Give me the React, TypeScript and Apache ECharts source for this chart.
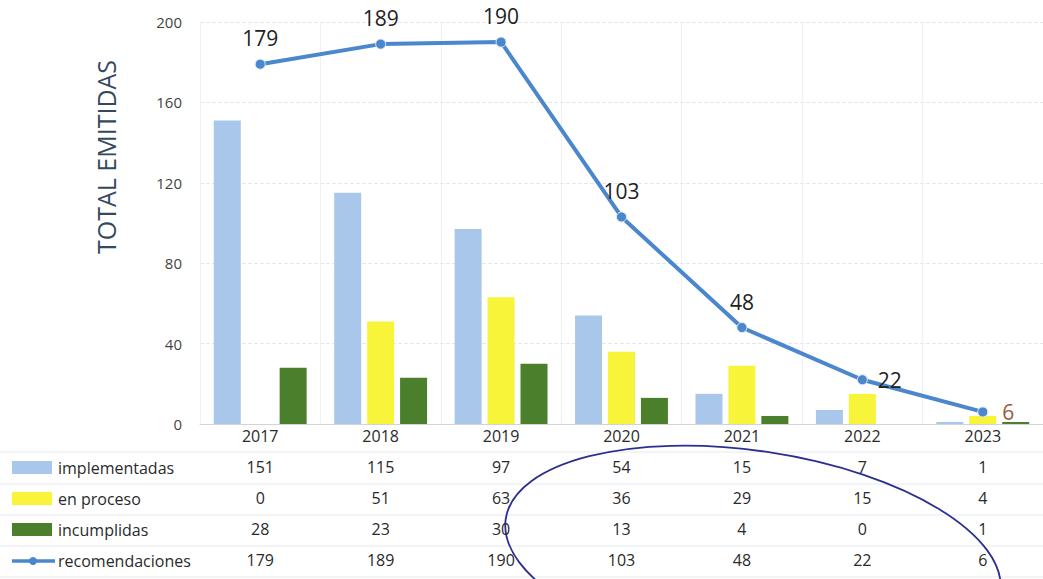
import React, { useEffect, useRef } from "react";
import * as echarts from "echarts";

const years = ["2017", "2018", "2019", "2020", "2021", "2022", "2023"];
const implementadas = [151, 115, 97, 54, 15, 7, 1];
const enProceso = [0, 51, 63, 36, 29, 15, 4];
const incumplidas = [28, 23, 30, 13, 4, 0, 1];
const recomendaciones = [179, 189, 190, 103, 48, 22, 6];
const yTicks = { min: 0, max: 200, interval: 40 };

const rowNames = ["implementadas", "en proceso", "incumplidas", "recomendaciones"];
const rowData = [implementadas, enProceso, incumplidas, recomendaciones];

const C_BLUE = "#a8c7ea";
const C_YELLOW = "#f7f43a";
const C_GREEN = "#4b7f2b";
const C_LINE = "#4a87cc";
const FONT = "Open Sans";

export default function App() {
  const ref = useRef<HTMLDivElement>(null);
  useEffect(() => {
    if (!ref.current) return;
    const chart = echarts.init(ref.current, undefined, { renderer: "svg" });
    const rowY = [468, 499, 530, 561];
    const rowOffsets = [29, 60, 91, 122];
    const tableAxes = rowData.map((arr, i) => ({
      type: "category",
      gridIndex: 0,
      position: "bottom",
      offset: rowOffsets[i],
      data: arr.map((v) => String(v)),
      axisLine: { show: false },
      axisTick: { show: false },
      splitLine: { show: false },
      axisLabel: { color: "#2a2a2a", fontSize: 16, fontFamily: FONT, margin: 6, interval: 0 },
    }));
    const graphics: any[] = [
      {
        type: "text",
        x: 106,
        y: 157,
        rotation: Math.PI / 2,
        style: {
          text: "TOTAL EMITIDAS",
          fill: "#34495e",
          font: `25px ${FONT}`,
          textAlign: "center",
          textVerticalAlign: "middle",
        },
      },
    ];
    [452, 484, 515, 546, 577].forEach((y) => {
      graphics.push({
        type: "line",
        shape: { x1: 0, y1: y, x2: 1043, y2: y },
        style: { stroke: "#e6e9ee", lineWidth: 1 },
      });
    });
    const iconColors = [C_BLUE, C_YELLOW, C_GREEN];
    rowNames.forEach((name, i) => {
      if (i < 3) {
        graphics.push({
          type: "rect",
          shape: { x: 12, y: rowY[i] - 7, width: 40, height: 13 },
          style: { fill: iconColors[i] },
        });
      } else {
        graphics.push({
          type: "line",
          shape: { x1: 12, y1: rowY[i], x2: 55, y2: rowY[i] },
          style: { stroke: C_LINE, lineWidth: 3.5 },
        });
        graphics.push({
          type: "circle",
          shape: { cx: 33, cy: rowY[i], r: 4 },
          style: { fill: C_LINE },
        });
      }
      graphics.push({
        type: "text",
        x: 58,
        y: rowY[i],
        style: {
          text: name,
          fill: "#2a2a2a",
          font: `16px ${FONT}`,
          textAlign: "left",
          textVerticalAlign: "middle",
        },
      });
    });
    graphics.push({
      type: "ellipse",
      x: 753,
      y: 556,
      rotation: -0.15,
      shape: { cx: 0, cy: 0, rx: 250, ry: 105 },
      style: { fill: "none", stroke: "#2b2f8f", lineWidth: 1.8 },
    });

    chart.setOption({
      animation: false,
      backgroundColor: "#ffffff",
      textStyle: { fontFamily: FONT },
      grid: { left: 200, right: 0, top: 22, bottom: 155 },
      xAxis: [
        {
          type: "category",
          data: years,
          axisLine: { lineStyle: { color: "#d0d4da" } },
          axisTick: { show: false },
          splitLine: { show: true, lineStyle: { color: "#f0f1f4" } },
          axisLabel: { color: "#2a2a2a", fontSize: 16, fontFamily: FONT, margin: 4 },
        },
        ...tableAxes,
      ],
      yAxis: {
        type: "value",
        min: yTicks.min,
        max: yTicks.max,
        interval: yTicks.interval,
        axisLine: { show: false },
        axisTick: { show: false },
        splitLine: { lineStyle: { color: "#e4e7ec", type: "dashed" } },
        axisLabel: { color: "#444", fontSize: 15, fontFamily: FONT, margin: 18 },
      },
      series: [
        {
          name: "implementadas",
          type: "bar",
          data: implementadas,
          barWidth: 27,
          barGap: "22%",
          itemStyle: { color: C_BLUE },
        },
        {
          name: "en proceso",
          type: "bar",
          data: enProceso,
          barWidth: 27,
          barGap: "22%",
          itemStyle: { color: C_YELLOW },
        },
        {
          name: "incumplidas",
          type: "bar",
          data: incumplidas,
          barWidth: 27,
          barGap: "22%",
          itemStyle: { color: C_GREEN },
        },
        {
          name: "recomendaciones",
          type: "line",
          data: recomendaciones.map((v, i) => {
            if (i === 5)
              return { value: v, label: { position: "right", distance: 10 } };
            if (i === 6)
              return { value: v, label: { position: "right", distance: 14, color: "#9a5a3c" } };
            return v;
          }),
          symbol: "circle",
          symbolSize: 10,
          lineStyle: { color: C_LINE, width: 4 },
          itemStyle: { color: C_LINE, borderColor: "#dfe8f3", borderWidth: 1 },
          label: {
            show: true,
            position: "top",
            distance: 10,
            color: "#222",
            fontSize: 21,
            fontFamily: FONT,
          },
          z: 5,
        },
      ],
      graphic: graphics,
    });
    return () => chart.dispose();
  }, []);
  return (
    <div
      ref={ref}
      style={{ position: "fixed", left: 0, top: 0, width: 1043, height: 579 }}
    />
  );
}
